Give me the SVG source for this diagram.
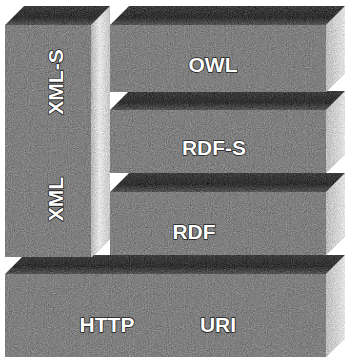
<svg xmlns="http://www.w3.org/2000/svg" width="349" height="360" viewBox="0 0 349 360">
  <style>
    .front { fill: #7e7e7e; }
    .top { fill: url(#topGrad); }
    .side { fill: url(#sideGrad); }
    .xside { fill: url(#xsideGrad); }
    .label { font-family: "Liberation Sans", Arial, sans-serif; font-weight: bold; font-size: 21px; fill: #ffffff; stroke: #1a1a1a; stroke-width: 1.6px; paint-order: stroke; stroke-linejoin: round; text-anchor: middle; }
  </style>
  <defs>
    <linearGradient id="topGrad" x1="0" y1="0" x2="0" y2="1">
      <stop offset="0" stop-color="#3c3c3c"/>
      <stop offset="0.6" stop-color="#2e2e2e"/>
      <stop offset="1" stop-color="#555555"/>
    </linearGradient>
    <linearGradient id="sideGrad" x1="0" y1="0" x2="1" y2="0">
      <stop offset="0" stop-color="#bcbcbc"/>
      <stop offset="1" stop-color="#e2e2e2"/>
    </linearGradient>
    <linearGradient id="xsideGrad" x1="0" y1="0" x2="1" y2="0">
      <stop offset="0" stop-color="#b4b4b4"/>
      <stop offset="0.45" stop-color="#e6e6e6"/>
      <stop offset="1" stop-color="#c4c4c4"/>
    </linearGradient>
    <linearGradient id="frontGrad" x1="0" y1="0" x2="0" y2="1">
      <stop offset="0" stop-color="#7a7a7a"/>
      <stop offset="1" stop-color="#858585"/>
    </linearGradient>
    <filter id="grain" x="0" y="0" width="100%" height="100%" color-interpolation-filters="sRGB">
      <feTurbulence type="fractalNoise" baseFrequency="0.95" numOctaves="2" seed="3" result="n"/>
      <feColorMatrix in="n" type="matrix" values="0.33 0.33 0.33 0 0  0.33 0.33 0.33 0 0  0.33 0.33 0.33 0 0  0 0 0 0 1" result="g"/>
      <feComposite in="SourceGraphic" in2="g" operator="arithmetic" k1="0" k2="1" k3="0.55" k4="-0.27" result="mix"/>
      <feComposite in="mix" in2="SourceAlpha" operator="in"/>
    </filter>
  </defs>
  <rect width="349" height="360" fill="#ffffff"/>

  <g id="boxes" filter="url(#grain)">
    <g id="http">
      <polygon class="top" points="5,274 24,255 345,255 326,274"/>
      <polygon class="side" points="326,274 345,255 345,338 326,357"/>
      <rect class="front" x="5" y="274" width="321" height="83" fill="url(#frontGrad)"/>
    </g>
    <g id="rdf">
      <polygon class="top" points="110,192 129,173 345,173 326,192"/>
      <polygon class="side" points="326,192 345,173 345,236 326,255"/>
      <rect class="front" x="110" y="192" width="216" height="63"/>
    </g>
    <g id="rdfs">
      <polygon class="top" points="110,110 129,91 345,91 326,110"/>
      <polygon class="side" points="326,110 345,91 345,154 326,173"/>
      <rect class="front" x="110" y="110" width="216" height="63"/>
    </g>
    <g id="owl">
      <polygon class="top" points="110,25 129,6 345,6 326,25"/>
      <polygon class="side" points="326,25 345,6 345,73 326,92"/>
      <rect class="front" x="110" y="25" width="216" height="67"/>
    </g>
    <g id="xml">
      <polygon class="top" points="5,25 24,6 110,6 91,25"/>
      <polygon class="xside" points="91,25 110,6 110,239 92,257 91,257"/>
      <rect class="front" x="5" y="25" width="86" height="232"/>
    </g>
  </g>

  <g id="labels">
    <text class="label" x="213" y="72">OWL</text>
    <text class="label" x="214" y="155">RDF-S</text>
    <text class="label" x="194" y="239">RDF</text>
    <text class="label" x="107" y="332">HTTP</text>
    <text class="label" x="218" y="332">URI</text>
    <text class="label" transform="translate(63,82) rotate(-90)">XML-S</text>
    <text class="label" transform="translate(63,199) rotate(-90)">XML</text>
  </g>
  <g id="connectors"/>
</svg>
